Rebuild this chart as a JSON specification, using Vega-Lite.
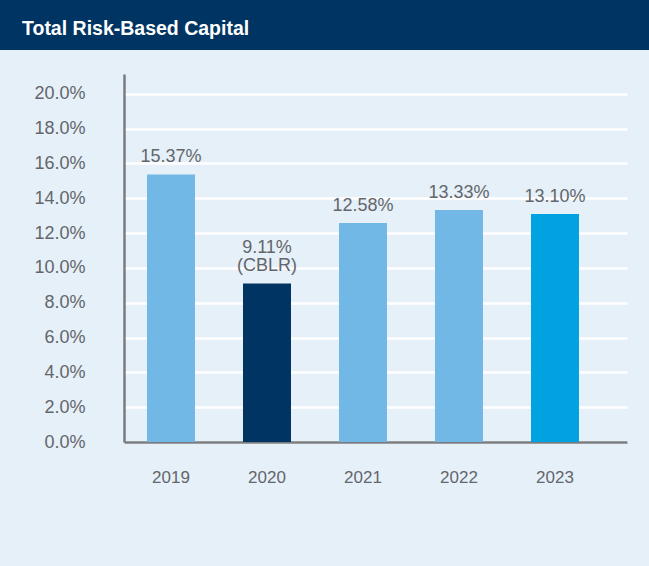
{
  "$schema": "https://vega.github.io/schema/vega-lite/v6.json",
  "background": "#E6F0F9",
  "padding": 0,
  "spacing": 24,
  "columns": 1,
  "align": "none",
  "config": {"view": {"stroke": null}, "font": "Liberation Sans"},
  "concat": [
    {
      "width": 649,
      "height": 50,
      "view": {"fill": "#003462", "stroke": null},
      "title": {
        "text": "Total Risk-Based Capital",
        "anchor": "start",
        "frame": "group",
        "orient": "top",
        "offset": -54,
        "baseline": "alphabetic",
        "dx": 22,
        "color": "#FFFFFF",
        "font": "Liberation Sans",
        "fontSize": 19.5,
        "fontWeight": "bold"
      },
      "data": {"values": []},
      "mark": "text",
      "encoding": {}
    },
    {
      "width": 649,
      "height": 368,
      "data": {
        "values": [
          {"year": "2019", "value": 15.37, "label": ["15.37%"]},
          {"year": "2020", "value": 9.11, "label": ["9.11%", "(CBLR)"]},
          {"year": "2021", "value": 12.58, "label": ["12.58%"]},
          {"year": "2022", "value": 13.33, "label": ["13.33%"]},
          {"year": "2023", "value": 13.10, "label": ["13.10%"]}
        ]
      },
      "encoding": {
        "x": {
          "field": "year",
          "type": "nominal",
          "sort": null,
          "scale": {"range": [124, 627], "paddingInner": 0.5, "paddingOuter": 0.37, "align": 0.324},
          "axis": {
            "title": null,
            "labelAngle": 0,
            "ticks": false,
            "domainColor": "#7A7D80",
            "domainWidth": 2.5,
            "labelColor": "#63666A",
            "labelFontSize": 17,
            "labelFont": "Liberation Sans",
            "labelPadding": 27,
            "minExtent": 124
          }
        },
        "y": {
          "field": "value",
          "type": "quantitative",
          "scale": {"domain": [0, 21.14], "nice": false, "zero": true},
          "axis": {
            "title": null,
            "offset": -124,
            "values": [0, 2, 4, 6, 8, 10, 12, 14, 16, 18, 20],
            "labelExpr": "format(datum.value, '.1f') + '%'",
            "ticks": false,
            "grid": true,
            "gridColor": "#FFFFFF",
            "gridWidth": 2.5,
            "gridOpacity": 1,
            "domainColor": "#7A7D80",
            "domainWidth": 2.5,
            "labelColor": "#63666A",
            "labelFontSize": 18,
            "labelFont": "Liberation Sans",
            "labelPadding": 39
          }
        }
      },
      "layer": [
        {
          "mark": {"type": "bar"},
          "encoding": {
            "color": {
              "field": "year",
              "type": "nominal",
              "scale": {
                "domain": ["2019", "2020", "2021", "2022", "2023"],
                "range": ["#71B8E6", "#003462", "#71B8E6", "#71B8E6", "#00A3DF"]
              },
              "legend": null
            }
          }
        },
        {
          "transform": [{"filter": "length(datum.label) == 1"}],
          "mark": {
            "type": "text",
            "baseline": "bottom",
            "dy": -8,
            "fontSize": 18,
            "font": "Liberation Sans",
            "color": "#63666A",
            "lineHeight": 18
          },
          "encoding": {"text": {"field": "label"}}
        },
        {
          "transform": [{"filter": "length(datum.label) > 1"}],
          "mark": {
            "type": "text",
            "baseline": "bottom",
            "dy": -26,
            "fontSize": 18,
            "font": "Liberation Sans",
            "color": "#63666A",
            "lineHeight": 18
          },
          "encoding": {"text": {"field": "label"}}
        }
      ]
    }
  ]
}
